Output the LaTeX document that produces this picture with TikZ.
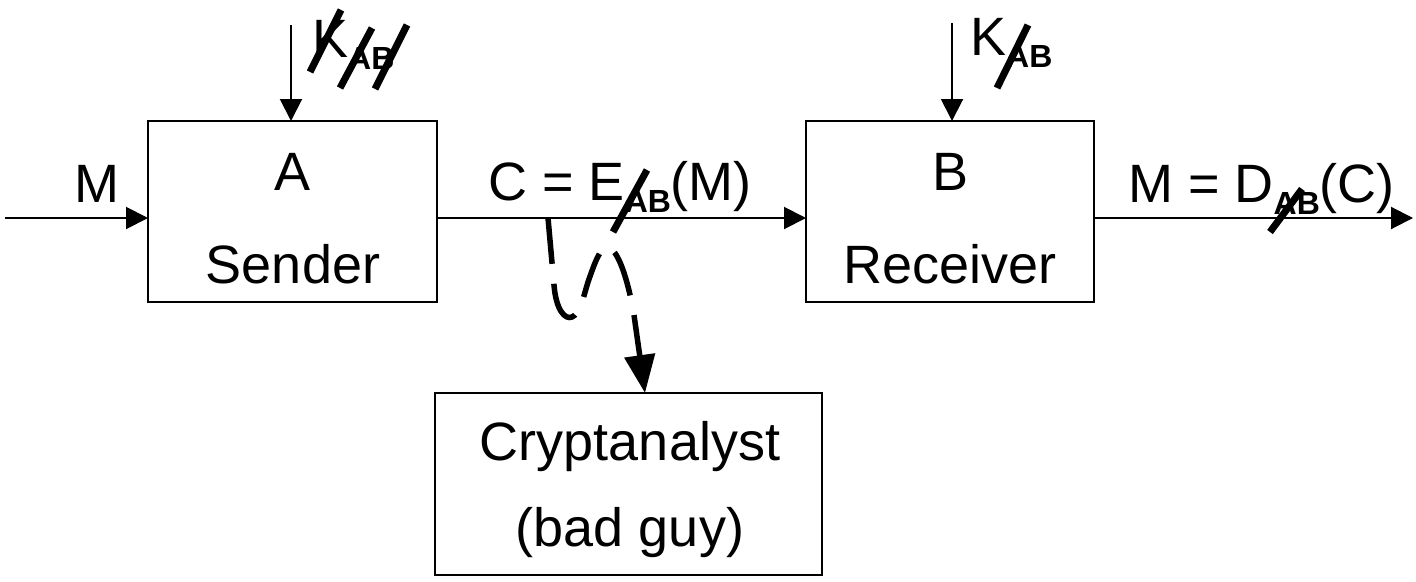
\documentclass[tikz,border=0pt]{standalone}
\usepackage{fontspec}
\setmainfont{Liberation Sans}
\usetikzlibrary{arrows.meta}
\newcommand{\keysub}[1]{\raisebox{-12pt}{\fontsize{32}{34}\selectfont\bfseries #1}}
\begin{document}
\begin{tikzpicture}[x=1pt,y=-1pt,
  box/.style={draw, line width=2.2pt, inner sep=0pt, outer sep=0pt, anchor=north west},
  flow/.style={line width=2pt, -{Triangle[length=22pt,width=22pt]}},
  lbl/.style={font=\fontsize{54}{60}\selectfont, anchor=base, inner sep=0pt},
  strike/.style={line width=7pt},
  spy/.style={line width=5.5pt, dash pattern=on 46pt off 20pt,
    -{Triangle[length=38pt,width=30pt]}}]
\useasboundingbox (0,0) rectangle (1416,581);

% the three parties
\node[box, minimum width=289pt, minimum height=181pt] (A) at (148,121) {};
\node[box, minimum width=288pt, minimum height=181pt] (B) at (806,121) {};
\node[box, minimum width=387pt, minimum height=182pt] (C) at (435,393) {};

\node[lbl] (Aname) at (293,190) {A};
\node[lbl] (Arole) at (293,283) {Sender};
\node[lbl] (Bname) at (950,190) {B};
\node[lbl] (Brole) at (950,283) {Receiver};
\node[lbl] (Cname) at (630,460) {Cryptanalyst};
\node[lbl] (Crole) at (630,546) {(bad guy)};

% message flow
\coordinate (in) at (5,218);
\coordinate (out) at (1413,218);
\coordinate (ka) at (291,25);
\coordinate (kb) at (952,23);
\draw[flow] (in) -- (in -| A.west);
\draw[flow] (A.east |- in) -- (B.west |- in);
\draw[flow] (B.east |- in) -- (out);
\draw[flow] (ka) -- (ka |- A.north);
\draw[flow] (kb) -- (kb |- B.north);

% labels on the lines
\node[lbl] (m) at (97,202) {M};
\node[lbl, anchor=base west] (enc) at (488,200) {C = E\keysub{AB}(M)};
\node[lbl, anchor=base west] (dec) at (1128,202) {M = D\keysub{AB}(C)};
\node[lbl, anchor=base west] (keya) at (312,57) {K\keysub{AB}};
\node[lbl, anchor=base west] (keyb) at (970,55) {K\keysub{AB}};

% struck-out keys
\draw[strike] (310,72) -- (341,10);
\draw[strike] (340,88) -- (372,28);
\draw[strike] (375,89) -- (407,25);
\draw[strike] (997,88) -- (1028,25);
\draw[strike] (613,232) -- (647,170);
\draw[strike] (1270,232) -- (1302,189);

% eavesdropping path
\coordinate (tap) at (548,218);
\draw[spy] (tap) -- (554,285)
  .. controls (556,310) and (565,320) .. (572,317)
  .. controls (580,314) and (584,295) .. (588,282)
  .. controls (595,262) and (600,248) .. (607,247)
  .. controls (618,248) and (628,280) .. (634,315)
  -- (C.north -| 645,0);
\end{tikzpicture}
\end{document}
